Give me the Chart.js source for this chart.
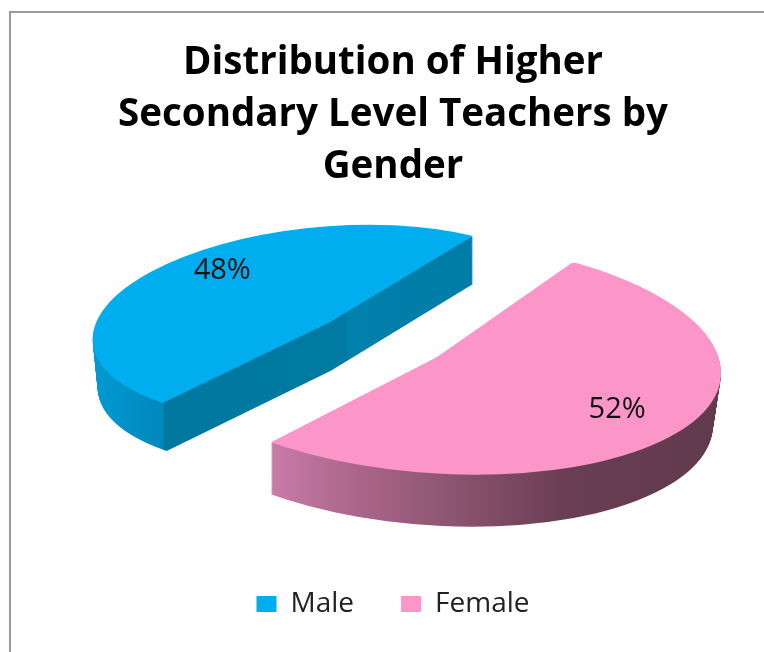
<!DOCTYPE html>
<html><head><meta charset="utf-8">
<script src="https://cdn.jsdelivr.net/npm/chart.js@4"></script>
<style>
html,body{margin:0;padding:0;background:#fff;width:764px;height:652px;overflow:hidden}
#frame{position:absolute;left:9px;top:11px;width:800px;height:700px;border:2px solid #9a9a9a;box-sizing:border-box}
canvas{position:absolute;left:0;top:0}
</style></head><body>
<div id="frame"></div>
<canvas id="c" width="764" height="652"></canvas>
<script>
const categories = ['Male', 'Female'];
const shares = [48, 52];
const sliceColors = ['#00aeef', '#fd96c8'];
const titleLines = ['Distribution of Higher', 'Secondary Level Teachers by', 'Gender'];

// 3-D look: every slice is drawn by Chart.js, through a tilted projection.
const tilt = [
  {apex:[329,322.7],   edge:[144,-86.7],   mid:[-178,-51],   edgeKey:'endAngle',   depth:48, anchorX:473, taper:0.987},
  {apex:[437.1,356.9], edge:[135.9,-94.9], mid:[240.3,75.7], edgeKey:'startAngle', depth:52, anchorX:273, taper:0.982}
];
const wallStops = [
  [[92,'#009ad4'],[163,'#0088bb'],[164.5,'#00779f'],[347,'#007aa3'],[348,'#0080ab'],[473,'#007ca6']],
  [[271,'#c97ba7'],[350,'#ad678c'],[450,'#8d5572'],[560,'#6b3e53'],[720,'#613a4c']]
];
const labelNudge = [[0,-21],[7,-2]];

function basis(el, t){
  const a = el[t.edgeKey], m = (el.startAngle + el.endAngle)/2;
  const u=[Math.cos(a),Math.sin(a)], v=[Math.cos(m),Math.sin(m)];
  const det=u[0]*v[1]-u[1]*v[0];
  const A=(t.edge[0]*v[1]-t.mid[0]*u[1])/det, B=(u[0]*t.mid[0]-v[0]*t.edge[0])/det;
  const C=(t.edge[1]*v[1]-t.mid[1]*u[1])/det, D=(u[0]*t.mid[1]-v[0]*t.edge[1])/det;
  return {A,B,C,D};
}
function applyTilt(ctx, el, t){
  const {A,B,C,D}=basis(el,t), r=el.outerRadius;
  ctx.translate(t.apex[0],t.apex[1]);
  ctx.transform(A/r,C/r,B/r,D/r,0,0);
  ctx.translate(-el.x,-el.y);
}
const tilted = {
  id:'tilted',
  beforeDatasetsDraw(chart){
    const ctx=chart.ctx, W=chart.width, H=chart.height, meta=chart.getDatasetMeta(0);
    meta.data.forEach((el,i)=>{
      const t=tilt[i];
      const off=document.createElement('canvas'); off.width=W; off.height=H;
      const o=off.getContext('2d');
      for(let d=t.depth;d>=1;d--){
        const s=1-(1-t.taper)*d/t.depth;
        o.save();
        o.translate(t.anchorX,d); o.scale(s,1); o.translate(-t.anchorX,0);
        applyTilt(o,el,t); el.draw(o);
        o.restore();
      }
      const g=o.createLinearGradient(0,0,W,0);
      wallStops[i].forEach(([x,c])=>g.addColorStop(x/W,c));
      o.globalCompositeOperation='source-in';
      o.fillStyle=g; o.fillRect(0,0,W,H);
      ctx.drawImage(off,0,0);
      ctx.save(); applyTilt(ctx,el,t); el.draw(ctx); ctx.restore();
    });
    const total=shares.reduce((a,b)=>a+b,0);
    ctx.save();
    ctx.font='29px "Open Sans"'; ctx.fillStyle='#111'; ctx.textAlign='center'; ctx.textBaseline='middle';
    meta.data.forEach((el,i)=>{
      const t=tilt[i], f=i===0?0.6:0.72;
      ctx.fillText(Math.round(shares[i]/total*100)+'%',
        t.apex[0]+t.mid[0]*f+labelNudge[i][0], t.apex[1]+t.mid[1]*f+labelNudge[i][1]);
    });
    ctx.restore();
    return false;
  }
};
new Chart(document.getElementById('c'),{
  type:'pie',
  data:{labels:categories,datasets:[{data:shares,backgroundColor:sliceColors,borderWidth:0}]},
  plugins:[tilted],
  options:{
    responsive:false,animation:false,events:[],rotation:227,
    layout:{padding:{top:37,bottom:24,left:22}},
    plugins:{
      tooltip:{enabled:false},
      title:{display:true,text:titleLines,color:'#000',padding:{top:0,bottom:10},
        font:{family:'"Open Sans"',weight:'bold',size:38.5,lineHeight:1.351}},
      legend:{position:'bottom',labels:{color:'#222',boxWidth:20,boxHeight:16,padding:47,
        font:{family:'"Open Sans"',size:28}}}
    }
  }
});
</script>
</body></html>
